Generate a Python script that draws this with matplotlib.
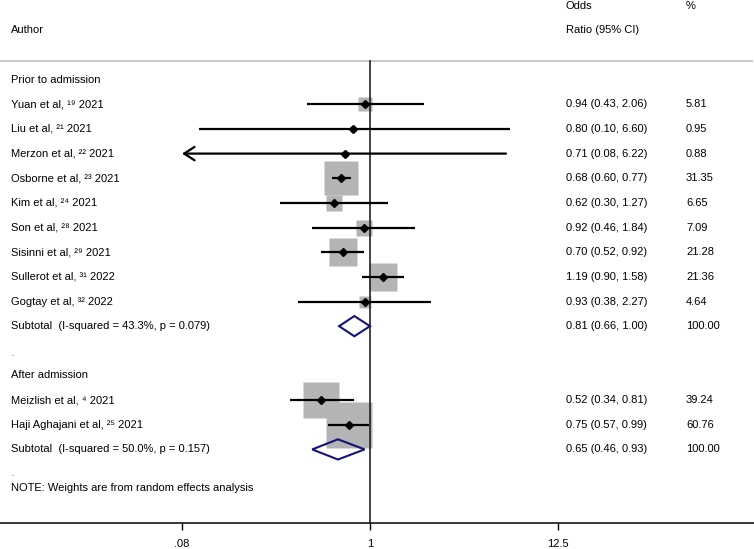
import matplotlib
matplotlib.use("Agg")
import matplotlib.pyplot as plt
from matplotlib.patches import Polygon
from matplotlib.transforms import blended_transform_factory

plt.rcParams['font.family'] = ['Liberation Sans', 'DejaVu Sans']

# ---------------- data ----------------
group1_label = "Prior to admission"
group1_studies = ["Yuan et al, ¹⁹ 2021", "Liu et al, ²¹ 2021", "Merzon et al, ²² 2021",
                  "Osborne et al, ²³ 2021", "Kim et al, ²⁴ 2021", "Son et al, ²⁸ 2021",
                  "Sisinni et al, ²⁹ 2021", "Sullerot et al, ³¹ 2022", "Gogtay et al, ³² 2022"]
group1_or = [0.94, 0.80, 0.71, 0.68, 0.62, 0.92, 0.70, 1.19, 0.93]
group1_lo = [0.43, 0.10, 0.08, 0.60, 0.30, 0.46, 0.52, 0.90, 0.38]
group1_hi = [2.06, 6.60, 6.22, 0.77, 1.27, 1.84, 0.92, 1.58, 2.27]
group1_w = [5.81, 0.95, 0.88, 31.35, 6.65, 7.09, 21.28, 21.36, 4.64]
group1_sub_label = "Subtotal  (I-squared = 43.3%, p = 0.079)"
group1_sub = (0.81, 0.66, 1.00)

group2_label = "After admission"
group2_studies = ["Meizlish et al, ⁴ 2021", "Haji Aghajani et al, ²⁵ 2021"]
group2_or = [0.52, 0.75]
group2_lo = [0.34, 0.57]
group2_hi = [0.81, 0.99]
group2_w = [39.24, 60.76]
group2_sub_label = "Subtotal  (I-squared = 50.0%, p = 0.157)"
group2_sub = (0.65, 0.46, 0.93)

note = "NOTE: Weights are from random effects analysis"
xticks = [0.08, 1, 12.5]
xtick_labels = [".08", "1", "12.5"]

# ---------------- figure ----------------
W, H = 754, 549
fig = plt.figure(figsize=(W / 100, H / 100), dpi=100)
ax = fig.add_axes([0, 0, 1, 1])
ax.set_xscale('log')
ax.set_xlim(0.00693, 174.1)
ax.set_ylim(18.04, -4.231)
for s in ['top', 'left', 'right']:
    ax.spines[s].set_visible(False)
ax.spines['bottom'].set_position(('data', 17))
ax.spines['bottom'].set_linewidth(1.1)
ax.set_yticks([])
ax.set_xticks(xticks)
ax.set_xticklabels(xtick_labels)
ax.xaxis.set_minor_locator(matplotlib.ticker.NullLocator())
ax.tick_params(axis='x', direction='out', length=5, width=1.0, pad=6,
               labelsize=8, colors='black')

tr = blended_transform_factory(ax.transAxes, ax.transData)
x_lab = 11 / W
x_est = 566 / W
x_wt = 686 / W

def txt(x, y, s, fs=8):
    ax.text(x, y, s, transform=tr, fontsize=fs, va='center', ha='left')

# header
txt(x_est, -4, "Odds")
txt(x_wt, -4, "%")
txt(x_lab, -3, "Author")
txt(x_est, -3, "Ratio (95% CI)")
ax.axhline(-1.76, xmin=0, xmax=752 / W, color='#c4c4c4', lw=1.3)

# reference line
ax.plot([1, 1], [-1.76, 17.0], color='#222222', lw=1.2, zorder=3)

box_c = '#b4b4b4'
axis_min = xticks[0]

def study_row(r, name, o, lo, hi, w):
    txt(x_lab, r, name)
    txt(x_est, r, f"{o:.2f} ({lo:.2f}, {hi:.2f})")
    txt(x_wt, r, f"{w:.2f}")
    ax.plot([o], [r], marker='s', ms=4.25 * w ** 0.5, color=box_c, mec='none', zorder=2)
    if lo <= axis_min:
        ax.annotate('', xy=(axis_min, r), xytext=(hi, r), zorder=4,
                    arrowprops=dict(arrowstyle='->,head_length=0.5,head_width=0.32',
                                    lw=1.6, color='black', shrinkA=0, shrinkB=0,
                                    mutation_scale=15))
    else:
        ax.plot([lo, hi], [r, r], color='black', lw=1.6, zorder=4, solid_capstyle='butt')
    ax.plot([o], [r], marker='D', ms=4.3, color='black', zorder=5)

def subtotal_row(r, label, sub):
    o, lo, hi = sub
    txt(x_lab, r, label)
    txt(x_est, r, f"{o:.2f} ({lo:.2f}, {hi:.2f})")
    txt(x_wt, r, "100.00")
    h = 0.41
    ax.add_patch(Polygon([(lo, r), (o, r - h), (hi, r), (o, r + h)], closed=True,
                         fill=False, ec='#14147a', lw=1.5, zorder=5))

txt(x_lab, -1, group1_label)
for i, name in enumerate(group1_studies):
    study_row(i, name, group1_or[i], group1_lo[i], group1_hi[i], group1_w[i])
subtotal_row(9, group1_sub_label, group1_sub)
txt(x_lab, 10.15, ".", fs=5)

txt(x_lab, 11, group2_label)
for i, name in enumerate(group2_studies):
    study_row(12 + i, name, group2_or[i], group2_lo[i], group2_hi[i], group2_w[i])
subtotal_row(14, group2_sub_label, group2_sub)
txt(x_lab, 15.0, ".", fs=5)
txt(x_lab, 15.55, note)

fig.savefig("out.png", dpi=100)
